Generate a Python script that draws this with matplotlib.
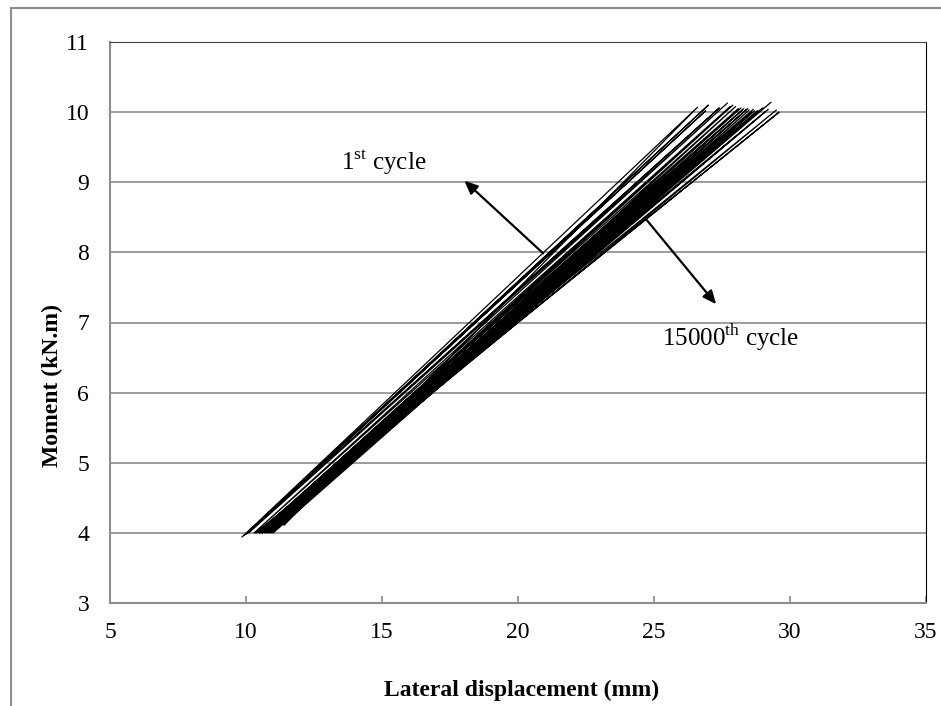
import matplotlib
matplotlib.use("Agg")
import matplotlib.pyplot as plt
from matplotlib.lines import Line2D

plt.rcParams["font.family"] = ["Liberation Serif", "DejaVu Serif"]

# cycle turning points: bottom (min load) and top (max load) of each cycle
low_disp = [11.4, 9.85, 9.95, 10.0, 10.1, 10.3, 10.5, 10.6, 10.45, 10.7,
            10.9, 11.0, 10.8, 10.5, 10.6, 10.35, 10.4, 10.75, 10.55, 10.65,
            10.85, 10.5, 10.7, 10.95, 10.6, 10.45, 10.8]
low_moment = [4.11, 3.94, 3.97, 3.98, 4.00, 4.00, 4.01, 4.00, 4.01, 4.00,
              4.00, 4.00, 4.01, 4.00, 4.00, 4.00, 4.00, 4.00, 4.00, 4.01,
              4.00, 4.00, 4.01, 4.00, 4.00, 4.01, 4.00]
high_disp = [26.6, 27.0, 26.9, 27.4, 27.7, 27.8, 27.9, 28.1, 28.3, 28.4,
             28.6, 28.5, 29.3, 29.0, 29.5, 29.6, 28.8, 29.2, 28.2, 28.7,
             28.0, 28.9, 28.45, 28.25, 29.1, 28.65]
high_moment = [10.07, 10.10, 10.02, 10.06, 10.13, 10.08, 10.10, 10.05, 10.05, 10.04,
               10.00, 10.03, 10.14, 10.06, 10.03, 10.00, 10.02, 10.04, 10.06, 10.02,
               10.08, 10.03, 10.05, 10.03, 10.01, 10.04]

disp = []
moment = []
for lx, ly, hx, hy in zip(low_disp, low_moment, high_disp, high_moment):
    disp += [lx, hx]
    moment += [ly, hy]
disp.append(low_disp[-1])
moment.append(low_moment[-1])

fig = plt.figure(figsize=(9.41, 7.06), dpi=100)
ax = fig.add_axes([110 / 941, 1 - 603 / 706, 816 / 941, 561 / 706])

ax.plot(disp, moment, color="black", lw=0.9)

ax.set_xlim(5, 35)
ax.set_ylim(3, 11)
ax.set_xticks(range(5, 36, 5))
ax.set_yticks(range(3, 12))
ax.yaxis.grid(True, color="#8c8c8c", lw=1.2)
ax.set_axisbelow(True)

ax.tick_params(axis="x", direction="in", length=5, color="#8c8c8c", width=1.2,
               labelsize=17, pad=14)
ax.tick_params(axis="y", length=0, labelsize=17, pad=15)

for side in ("left", "bottom"):
    ax.spines[side].set_color("#8c8c8c")
    ax.spines[side].set_linewidth(1.5)
ax.spines["top"].set_color("#404040")
ax.spines["right"].set_color("black")

ax.set_xlabel("Lateral displacement (mm)", fontsize=17, fontweight="bold", va="center")
ax.set_ylabel("Moment (kN.m)", fontsize=17, fontweight="bold", va="center")
ax.xaxis.set_label_coords(0.504, -0.155)
ax.yaxis.set_label_coords(-0.070, 0.387)

arrow = dict(arrowstyle="-|>,head_length=0.8,head_width=0.35", color="black", lw=1.6)
ax.annotate("", xy=(17.95, 9.05), xytext=(21.0, 7.96), arrowprops=arrow)
ax.annotate("", xy=(27.35, 7.23), xytext=(24.65, 8.5), arrowprops=arrow)
ax.text(15.07, 9.29, r"1$^{\mathregular{st}}$ cycle", fontsize=18, ha="center", va="center")
ax.text(27.8, 6.78, r"15000$^{\mathregular{th}}$ cycle", fontsize=18, ha="center", va="center")

# outer frame around the chart area
fig.add_artist(Line2D([11 / 941, 11 / 941], [0, 1 - 8 / 706], color="#8c8c8c", lw=1.5,
                      transform=fig.transFigure))
fig.add_artist(Line2D([11 / 941, 1], [1 - 8 / 706, 1 - 8 / 706], color="#8c8c8c", lw=1.5,
                      transform=fig.transFigure))

fig.savefig("out.png", dpi=100)
